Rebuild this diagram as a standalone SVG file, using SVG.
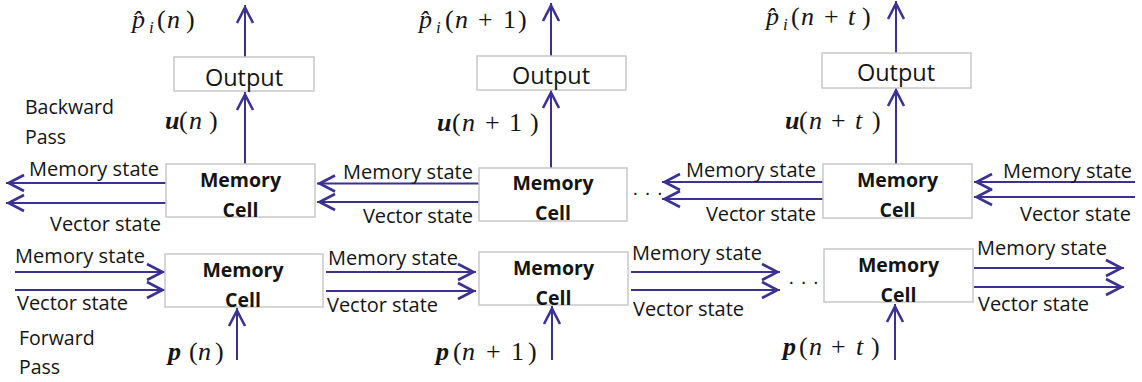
<svg xmlns="http://www.w3.org/2000/svg" width="1142" height="382" viewBox="0 0 1142 382">
<defs>
<style>
.box{fill:#fff;stroke:#c8c8c8;stroke-width:1.5}
.ln{stroke:#3a3192;stroke-width:2;fill:none;marker-end:url(#ah)}
.lb{font-family:"Open Sans",sans-serif;font-size:20px;fill:#141414}
.pl{font-family:"Open Sans",sans-serif;font-size:19.5px;fill:#141414}
.cl{font-family:"Open Sans",sans-serif;font-size:19.5px;font-weight:bold;fill:#141414;text-anchor:middle}
.ot{font-family:"Open Sans",sans-serif;font-size:23.5px;fill:#141414;text-anchor:middle}
.m{font-family:"Liberation Serif",serif;font-size:26px;fill:#141414}
.it{font-style:italic}
.bi{font-style:italic;font-weight:bold}
.sb{font-size:17px;font-style:italic}
.dots{font-family:"Liberation Sans",sans-serif;font-size:20px;fill:#141414}
</style>
<marker id="ah" markerUnits="userSpaceOnUse" viewBox="-20 -10 22 20" refX="0" refY="0" markerWidth="22" markerHeight="20" orient="auto">
<path d="M-18,-8 L-2.5,0 L-18,8" fill="none" stroke="#3a3192" stroke-width="2.6" stroke-linejoin="miter"/>
</marker>
</defs>
<rect width="1142" height="382" fill="#fff"/>

<g id="connectors">
<line class="ln" x1="245" y1="57" x2="245" y2="5"/>
<line class="ln" x1="551" y1="56" x2="551" y2="3"/>
<line class="ln" x1="896" y1="53" x2="896" y2="1"/>
<line class="ln" x1="245" y1="164" x2="245" y2="92"/>
<line class="ln" x1="551" y1="168" x2="551" y2="90"/>
<line class="ln" x1="896" y1="164" x2="896" y2="88"/>
<line class="ln" x1="237" y1="360" x2="237" y2="308"/>
<line class="ln" x1="552" y1="360" x2="552" y2="306"/>
<line class="ln" x1="895" y1="360" x2="895" y2="304"/>
<line class="ln" x1="166" y1="183" x2="6" y2="183"/>
<line class="ln" x1="166" y1="203" x2="6" y2="203"/>
<line class="ln" x1="479" y1="183.5" x2="317" y2="183.5"/>
<line class="ln" x1="479" y1="202" x2="317" y2="202"/>
<line class="ln" x1="823" y1="182" x2="662" y2="182"/>
<line class="ln" x1="823" y1="199" x2="662" y2="199"/>
<line class="ln" x1="1135" y1="182" x2="974" y2="182"/>
<line class="ln" x1="1135" y1="197" x2="974" y2="197"/>
<line class="ln" x1="15" y1="272" x2="165" y2="272"/>
<line class="ln" x1="15" y1="290" x2="165" y2="290"/>
<line class="ln" x1="326" y1="272" x2="476" y2="272"/>
<line class="ln" x1="326" y1="291" x2="476" y2="291"/>
<line class="ln" x1="631" y1="272" x2="780" y2="272"/>
<line class="ln" x1="631" y1="290" x2="780" y2="290"/>
<line class="ln" x1="974" y1="268" x2="1124" y2="268"/>
<line class="ln" x1="974" y1="287" x2="1124" y2="287"/>
</g>

<g id="output1"><rect class="box" x="174" y="57" width="140" height="34"/><text class="ot" x="244" y="85.5">Output</text></g>
<g id="output2"><rect class="box" x="477" y="56" width="149" height="34"/><text class="ot" x="551" y="84">Output</text></g>
<g id="output3"><rect class="box" x="822" y="53" width="149" height="35"/><text class="ot" x="896" y="81">Output</text></g>

<g id="bcell1"><rect class="box" x="166" y="164" width="149" height="53"/><text class="cl" x="240.5" y="187">Memory</text><text class="cl" x="240.5" y="217">Cell</text></g>
<g id="bcell2"><rect class="box" x="479" y="168" width="148" height="53"/><text class="cl" x="553" y="190">Memory</text><text class="cl" x="553" y="220">Cell</text></g>
<g id="bcell3"><rect class="box" x="823" y="164" width="149" height="54"/><text class="cl" x="897.5" y="187">Memory</text><text class="cl" x="897.5" y="217">Cell</text></g>

<g id="fcell1"><rect class="box" x="165" y="254" width="158" height="53"/><text class="cl" x="243" y="277">Memory</text><text class="cl" x="243" y="307">Cell</text></g>
<g id="fcell2"><rect class="box" x="479" y="252" width="149" height="53"/><text class="cl" x="553.5" y="275">Memory</text><text class="cl" x="553.5" y="305">Cell</text></g>
<g id="fcell3"><rect class="box" x="824" y="249" width="149" height="53"/><text class="cl" x="898.5" y="272">Memory</text><text class="cl" x="898.5" y="302">Cell</text></g>

<g id="labels">
<text class="pl" x="25" y="114">Backward</text>
<text class="pl" x="25" y="144">Pass</text>
<text class="pl" x="19" y="345">Forward</text>
<text class="pl" x="19" y="374">Pass</text>

<text class="lb" x="29" y="176" textLength="130">Memory state</text>
<text class="lb" x="50" y="231" textLength="111">Vector state</text>
<text class="lb" x="343" y="179" textLength="130">Memory state</text>
<text class="lb" x="363" y="223" textLength="110">Vector state</text>
<text class="lb" x="686" y="177" textLength="130">Memory state</text>
<text class="lb" x="706" y="221" textLength="110">Vector state</text>
<text class="lb" x="1003" y="178" textLength="129">Memory state</text>
<text class="lb" x="1020" y="221" textLength="111">Vector state</text>

<text class="lb" x="15" y="263" textLength="130">Memory state</text>
<text class="lb" x="17" y="310" textLength="111">Vector state</text>
<text class="lb" x="328" y="265" textLength="130">Memory state</text>
<text class="lb" x="327" y="312" textLength="111">Vector state</text>
<text class="lb" x="632" y="260" textLength="130">Memory state</text>
<text class="lb" x="633" y="316" textLength="111">Vector state</text>
<text class="lb" x="977" y="255" textLength="130">Memory state</text>
<text class="lb" x="978" y="311" textLength="111">Vector state</text>

<text class="dots" x="632" y="199">· · ·</text>
<text class="dots" x="788" y="288">· · ·</text>
</g>

<g id="math">
<text class="m" y="28"><tspan class="it" x="132">p̂</tspan><tspan class="sb" x="149" dy="5">i</tspan><tspan x="157" dy="-5">(</tspan><tspan class="it" x="167">n</tspan><tspan x="186">)</tspan></text>
<text class="m" y="28"><tspan class="it" x="419">p̂</tspan><tspan class="sb" x="436" dy="5">i</tspan><tspan x="445" dy="-5">(</tspan><tspan class="it" x="455">n</tspan><tspan x="478">+</tspan><tspan x="503">1</tspan><tspan x="518">)</tspan></text>
<text class="m" y="25"><tspan class="it" x="766">p̂</tspan><tspan class="sb" x="783" dy="5">i</tspan><tspan x="791" dy="-5">(</tspan><tspan class="it" x="801">n</tspan><tspan x="824">+</tspan><tspan class="it" x="848">t</tspan><tspan x="862">)</tspan></text>

<text class="m" y="129"><tspan class="bi" x="165">u</tspan><tspan x="179">(</tspan><tspan class="it" x="189">n</tspan><tspan x="209">)</tspan></text>
<text class="m" y="131"><tspan class="bi" x="437">u</tspan><tspan x="452">(</tspan><tspan class="it" x="462">n</tspan><tspan x="485">+</tspan><tspan x="509">1</tspan><tspan x="530">)</tspan></text>
<text class="m" y="129"><tspan class="bi" x="785">u</tspan><tspan x="799">(</tspan><tspan class="it" x="809">n</tspan><tspan x="831">+</tspan><tspan class="it" x="855">t</tspan><tspan x="872">)</tspan></text>

<text class="m" y="360"><tspan class="bi" x="168">p</tspan><tspan x="189">(</tspan><tspan class="it" x="198">n</tspan><tspan x="215">)</tspan></text>
<text class="m" y="360"><tspan class="bi" x="436">p</tspan><tspan x="453">(</tspan><tspan class="it" x="462">n</tspan><tspan x="486">+</tspan><tspan x="511">1</tspan><tspan x="528">)</tspan></text>
<text class="m" y="355"><tspan class="bi" x="783">p</tspan><tspan x="799">(</tspan><tspan class="it" x="809">n</tspan><tspan x="831">+</tspan><tspan class="it" x="856">t</tspan><tspan x="871">)</tspan></text>
</g>
</svg>
